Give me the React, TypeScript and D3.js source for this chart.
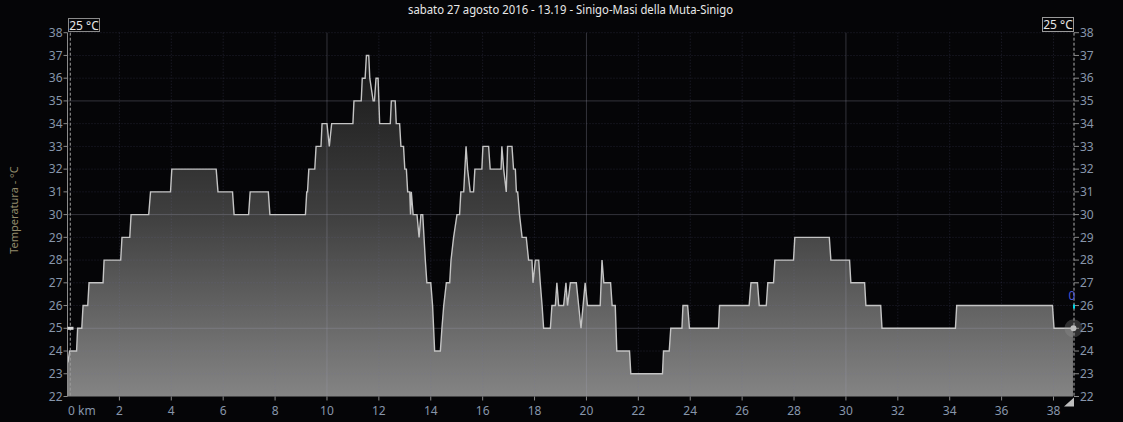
import React from "react";
import * as d3 from "d3";

const title = "sabato 27 agosto 2016 - 13.19 - Sinigo-Masi della Muta-Sinigo";
const yAxisTitle = "Temperatura - °C";
const refLabel = "25 °C";

// Temperature profile: plateaus (start km, end km, °C)
const plateauStartKm = [0.02, 0.08, 0.39, 0.6, 0.83, 1.41, 2.1, 2.45, 3.2, 4.02, 5.8, 6.42, 7.04, 7.8, 9.22, 9.3, 9.58, 9.81, 10.09, 10.18, 11.04, 11.36, 11.52, 11.65, 11.78, 11.89, 12.03, 12.48, 12.67, 12.85, 13.0, 13.11, 13.22, 13.25, 13.32, 13.55, 13.62, 13.79, 13.85, 14.07, 14.15, 14.43, 14.5, 14.6, 14.78, 14.88, 15.01, 15.16, 15.36, 15.42, 15.52, 15.7, 16.01, 16.29, 16.74, 16.81, 16.91, 16.96, 17.19, 17.3, 17.42, 17.52, 17.77, 17.94, 18.03, 18.22, 18.29, 18.35, 18.67, 18.86, 18.93, 19.21, 19.27, 19.38, 19.7, 19.79, 19.95, 20.04, 20.6, 20.67, 20.99, 21.17, 21.71, 22.97, 23.25, 23.72, 23.97, 25.13, 26.34, 26.66, 26.99, 27.26, 28.03, 29.42, 30.19, 30.77, 31.39, 34.27, 38.02];
const plateauEndKm = [0.02, 0.35, 0.55, 0.78, 1.37, 2.05, 2.4, 3.13, 3.97, 5.73, 6.36, 6.98, 7.74, 9.17, 9.25, 9.53, 9.77, 10.0, 10.09, 11.0, 11.32, 11.47, 11.61, 11.65, 11.83, 11.97, 12.44, 12.63, 12.8, 12.95, 13.06, 13.19, 13.22, 13.25, 13.47, 13.55, 13.69, 13.79, 14.0, 14.07, 14.37, 14.43, 14.5, 14.73, 14.78, 14.88, 15.11, 15.27, 15.36, 15.42, 15.65, 15.97, 16.23, 16.71, 16.74, 16.81, 16.91, 17.13, 17.26, 17.35, 17.42, 17.68, 17.9, 17.94, 18.16, 18.22, 18.29, 18.61, 18.8, 18.86, 19.12, 19.21, 19.27, 19.61, 19.7, 19.79, 19.95, 20.53, 20.6, 20.93, 21.11, 21.66, 22.93, 23.19, 23.68, 23.9, 25.09, 26.27, 26.59, 26.93, 27.21, 27.98, 29.36, 30.14, 30.72, 31.34, 34.22, 37.96, 38.75];
const plateauTempC = [23.5, 24, 25, 26, 27, 28, 29, 30, 31, 32, 31, 30, 31, 30, 31, 32, 33, 34, 33, 34, 35, 36, 37, 36, 35, 36, 34, 35, 34, 33, 32, 31, 30, 31, 30, 29, 30, 28, 27, 26, 24, 25, 26, 27, 28, 29, 30, 31, 33, 32, 31, 32, 33, 32, 33, 32, 31, 33, 32, 31, 30, 29, 28, 27, 28, 27, 26, 25, 26, 27, 26, 27, 26, 27, 26, 25, 27, 26, 28, 27, 26, 24, 23, 24, 25, 26, 25, 26, 27, 26, 27, 28, 29, 28, 27, 26, 25, 26, 25];

const xTicksKm = [0, 2, 4, 6, 8, 10, 12, 14, 16, 18, 20, 22, 24, 26, 28, 30, 32, 34, 36, 38];
const yTicksC = [22, 23, 24, 25, 26, 27, 28, 29, 30, 31, 32, 33, 34, 35, 36, 37, 38];
const majorXKm = [10, 20, 30];
const majorYC = [25, 30, 35];
const refTempC = 25;
const xDomain = [0, 38.79];
const yDomain = [22, 38];

export default function App() {
  const W = 1123, H = 422;
  const left = 67.5, right = 1074, top = 32.7, bottom = 396.5;
  const x = d3.scaleLinear().domain(xDomain).range([left, right]);
  const y = d3.scaleLinear().domain(yDomain).range([bottom, top]);

  const pts: [number, number][] = [];
  plateauStartKm.forEach((s, i) => {
    pts.push([s, plateauTempC[i]]);
    if (plateauEndKm[i] !== s) pts.push([plateauEndKm[i], plateauTempC[i]]);
  });
  const areaPts: [number, number][] = [[0, yDomain[0]], ...pts, [pts[pts.length - 1][0], yDomain[0]]];

  const area = d3.area<[number, number]>().x(d => x(d[0])).y0(y(yDomain[0])).y1(d => y(d[1]));
  const line = d3.line<[number, number]>().x(d => x(d[0])).y(d => y(d[1]));

  const last = pts[pts.length - 1];
  const tickColor = "#8796ab";
  const font = "'Noto Sans', 'Open Sans', sans-serif";

  return (
    <svg width={W} height={H} style={{ position: "absolute", left: 0, top: 0, background: "#050507" }}>
      <defs>
        <linearGradient id="fillGrad" gradientUnits="userSpaceOnUse" x1="0" y1={top} x2="0" y2={bottom}>
          <stop offset="0" stopColor="#121212" />
          <stop offset="0.5" stopColor="#3f3f3f" />
          <stop offset="1" stopColor="#848484" />
        </linearGradient>
      </defs>
      <rect x={0} y={0} width={W} height={H} fill="#050507" />
      <path d={area(areaPts) || ""} fill="url(#fillGrad)" />
      {/* minor grid */}
      {yTicksC.filter(t => !majorYC.includes(t) && t !== 22).map(t => (
        <line key={"gy" + t} x1={left} x2={right} y1={y(t)} y2={y(t)} stroke="rgba(120,120,170,0.26)" strokeDasharray="1,2" />
      ))}
      {xTicksKm.filter(t => !majorXKm.includes(t) && t !== 0).map(t => (
        <line key={"gx" + t} x1={x(t)} x2={x(t)} y1={top} y2={bottom} stroke="rgba(120,120,170,0.26)" strokeDasharray="1,2" />
      ))}
      {/* major grid */}
      {majorYC.map(t => (
        <line key={"my" + t} x1={left} x2={right} y1={y(t)} y2={y(t)} stroke="rgba(160,160,180,0.3)" />
      ))}
      {majorXKm.map(t => (
        <line key={"mx" + t} x1={x(t)} x2={x(t)} y1={top} y2={bottom} stroke="rgba(160,160,180,0.3)" />
      ))}
      <path d={line(pts) || ""} fill="none" stroke="#c4c4c4" strokeWidth={1.4} />

      {/* left axis */}
      <line x1={left} x2={left} y1={top} y2={bottom} stroke="#8a8a8a" strokeWidth={1} />
      <line x1={left + 2.8} x2={left + 2.8} y1={top} y2={bottom} stroke="#9a9a9a" strokeWidth={1} strokeDasharray="3,2" />
      {yTicksC.map(t => (
        <g key={"ly" + t}>
          <line x1={left - 4} x2={left} y1={y(t)} y2={y(t)} stroke="#8a8a8a" />
          <text x={left - 5} y={y(t)} dy="0.35em" textAnchor="end" fontSize={12} fontFamily={font} fill={tickColor}>{t}</text>
        </g>
      ))}
      {/* right axis */}
      <line x1={right} x2={right} y1={top} y2={bottom} stroke="#b0b0b0" strokeWidth={1} strokeDasharray="3,2" />
      {yTicksC.map(t => (
        <g key={"ry" + t}>
          <line x1={right} x2={right + 5} y1={y(t)} y2={y(t)} stroke="#8a8a8a" />
          <text x={right + 6} y={y(t)} dy="0.35em" textAnchor="start" fontSize={12} fontFamily={font} fill={tickColor}>{t}</text>
        </g>
      ))}
      {/* x axis ticks */}
      {xTicksKm.map(t => (
        <g key={"xt" + t}>
          {t !== 0 && <line x1={x(t)} x2={x(t)} y1={bottom} y2={bottom + 4} stroke="#8a8a8a" />}
          <text x={t === 0 ? x(t) + 0.5 : x(t)} y={415} textAnchor={t === 0 ? "start" : "middle"} fontSize={12} fontFamily={font} fill={tickColor}>{t === 0 ? "0 km" : t}</text>
        </g>
      ))}

      {/* reference labels */}
      <rect x={68.5} y={18.5} width={31} height={13} fill="#050507" stroke="#8a8a8a" />
      <text x={84} y={29.5} textAnchor="middle" fontSize={12} fontFamily={font} fill="#e6e6e6">{refLabel}</text>
      <rect x={1042.5} y={17.5} width={31} height={14} fill="#050507" stroke="#9a9a9a" />
      <text x={1058} y={29} textAnchor="middle" fontSize={12} fontFamily={font} fill="#e6e6e6">{refLabel}</text>
      <rect x={left} y={y(refTempC) - 1.5} width={6} height={3} fill="#d8d8d8" />

      {/* end marker */}
      <circle cx={x(last[0]) + 0.5} cy={y(last[1])} r={9} fill="rgba(150,150,150,0.3)" />
      <circle cx={x(last[0]) + 0.5} cy={y(last[1])} r={3} fill="#bdbdbd" />
      <rect x={right - 1} y={y(26) - 1} width={2} height={4} fill="#00d8e8" />
      <text x={right - 2} y={y(26) - 6} textAnchor="middle" fontSize={12} fontFamily={font} fill="#4a58d8">0</text>
      <path d={`M${right - 10},${bottom + 10} L${right},${bottom + 10} L${right},${bottom + 1} Z`} fill="#bdbdbd" />

      {/* titles */}
      <text x={570.5} y={14} textAnchor="middle" fontSize={12} fontFamily={font} fill="#e8e8e8" textLength={325} lengthAdjust="spacingAndGlyphs">{title}</text>
      <text transform={`translate(18,210) rotate(-90)`} textAnchor="middle" fontSize={11} fontFamily={font} fill="#948c6c">{yAxisTitle}</text>
    </svg>
  );
}
